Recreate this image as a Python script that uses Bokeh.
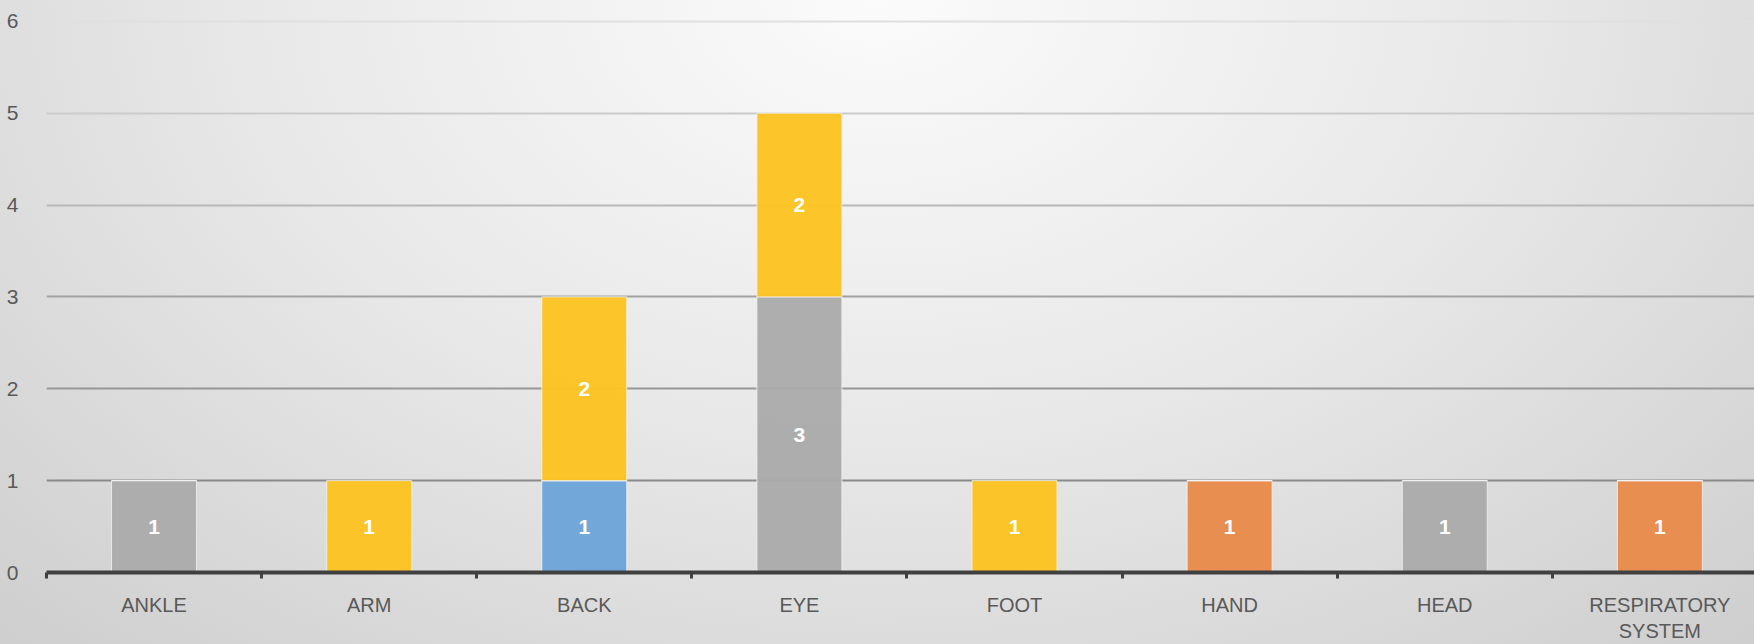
from bokeh.plotting import figure
from bokeh.models import ColumnDataSource, Range1d, FixedTicker
from bokeh.core.properties import value
from bokeh.embed import file_html
from bokeh.resources import INLINE

# ---- data ----
categories = ["ANKLE", "ARM", "BACK", "EYE", "FOOT", "HAND", "HEAD", "RESPIRATORY\nSYSTEM"]
series_names = ["Series 1", "Series 2", "Series 3", "Series 4"]
series1 = [0, 0, 1, 0, 0, 0, 0, 0]   # blue
series2 = [0, 0, 0, 0, 0, 1, 0, 1]   # orange
series3 = [1, 0, 0, 3, 0, 0, 1, 0]   # gray
series4 = [0, 1, 2, 2, 1, 0, 0, 0]   # yellow
y_ticks = [0, 1, 2, 3, 4, 5, 6]
grid_colors = ["#8a8a8a", "#8a8a8a", "#979797", "#a2a2a2", "#b8b8b8", "#cbcbcb", "#e0e0e0"]

colors = ["#6CA4D8", "#E88A4A", "#ABABAB", "#FCC421"]
series = [series1, series2, series3, series4]

n = len(categories)
centers = [i + 0.5 for i in range(n)]
boundaries = [i for i in range(n + 1)]

data = {"x": centers}
for name, vals in zip(series_names, series):
    data[name] = vals
source = ColumnDataSource(data)

p = figure(
    frame_width=1708, frame_height=554,
    min_border_left=46, min_border_right=0, min_border_top=18, min_border_bottom=72,
    x_range=Range1d(0, 7.94), y_range=Range1d(0, 6.03),
    output_backend="svg", toolbar_location=None,
    styles={"background": "radial-gradient(ellipse 72% 135% at 50% 0%, #fbfbfb 0%, #e8e8e8 50%, #cfcfcf 100%)"},
)
p.border_fill_alpha = 0
p.background_fill_alpha = 0
p.outline_line_color = None

# horizontal gridlines (darker towards the bottom, as in the original)
p.hspan(y=y_ticks[1:], line_color=grid_colors[1:], line_width=2)
p.xgrid.grid_line_color = None
p.ygrid.grid_line_color = None

p.vbar_stack(series_names, x="x", width=0.395, source=source, color=colors,
             fill_alpha=0.96, line_color="#f4f4f4", line_width=1, line_alpha=0.8)

# segment labels
lx, ly, lt = [], [], []
for i in range(n):
    base = 0
    for vals in series:
        v = vals[i]
        if v:
            lx.append(centers[i])
            ly.append(base + v / 2)
            lt.append(str(v))
        base += v
p.text(x=lx, y=ly, text=lt, text_color="white", text_font=value("Liberation Sans"),
       text_font_size="21px", text_font_style="bold", text_align="center", text_baseline="middle")

# y axis
p.yaxis.ticker = FixedTicker(ticks=y_ticks)
p.yaxis.axis_line_color = None
p.yaxis.major_tick_line_color = None
p.yaxis.minor_tick_line_color = None
p.yaxis.major_label_standoff = 22
p.yaxis.major_label_text_font = "Liberation Sans"
p.yaxis.major_label_text_font_size = "21px"
p.yaxis.major_label_text_color = "#595959"

# x axis
p.xaxis.ticker = FixedTicker(ticks=centers, minor_ticks=boundaries)
p.xaxis.major_label_overrides = {c: lab for c, lab in zip(centers, categories)}
p.xaxis.axis_line_color = "#404040"
p.xaxis.axis_line_width = 4
p.xaxis.major_tick_line_color = None
p.xaxis.minor_tick_line_color = "#404040"
p.xaxis.minor_tick_line_width = 3
p.xaxis.minor_tick_out = 6
p.xaxis.minor_tick_in = 0
p.xaxis.major_label_standoff = 15
p.xaxis.major_label_text_font = "Liberation Sans"
p.xaxis.major_label_text_font_size = "20px"
p.xaxis.major_label_text_color = "#595959"

open("out.html", "w").write(file_html(p, INLINE))
